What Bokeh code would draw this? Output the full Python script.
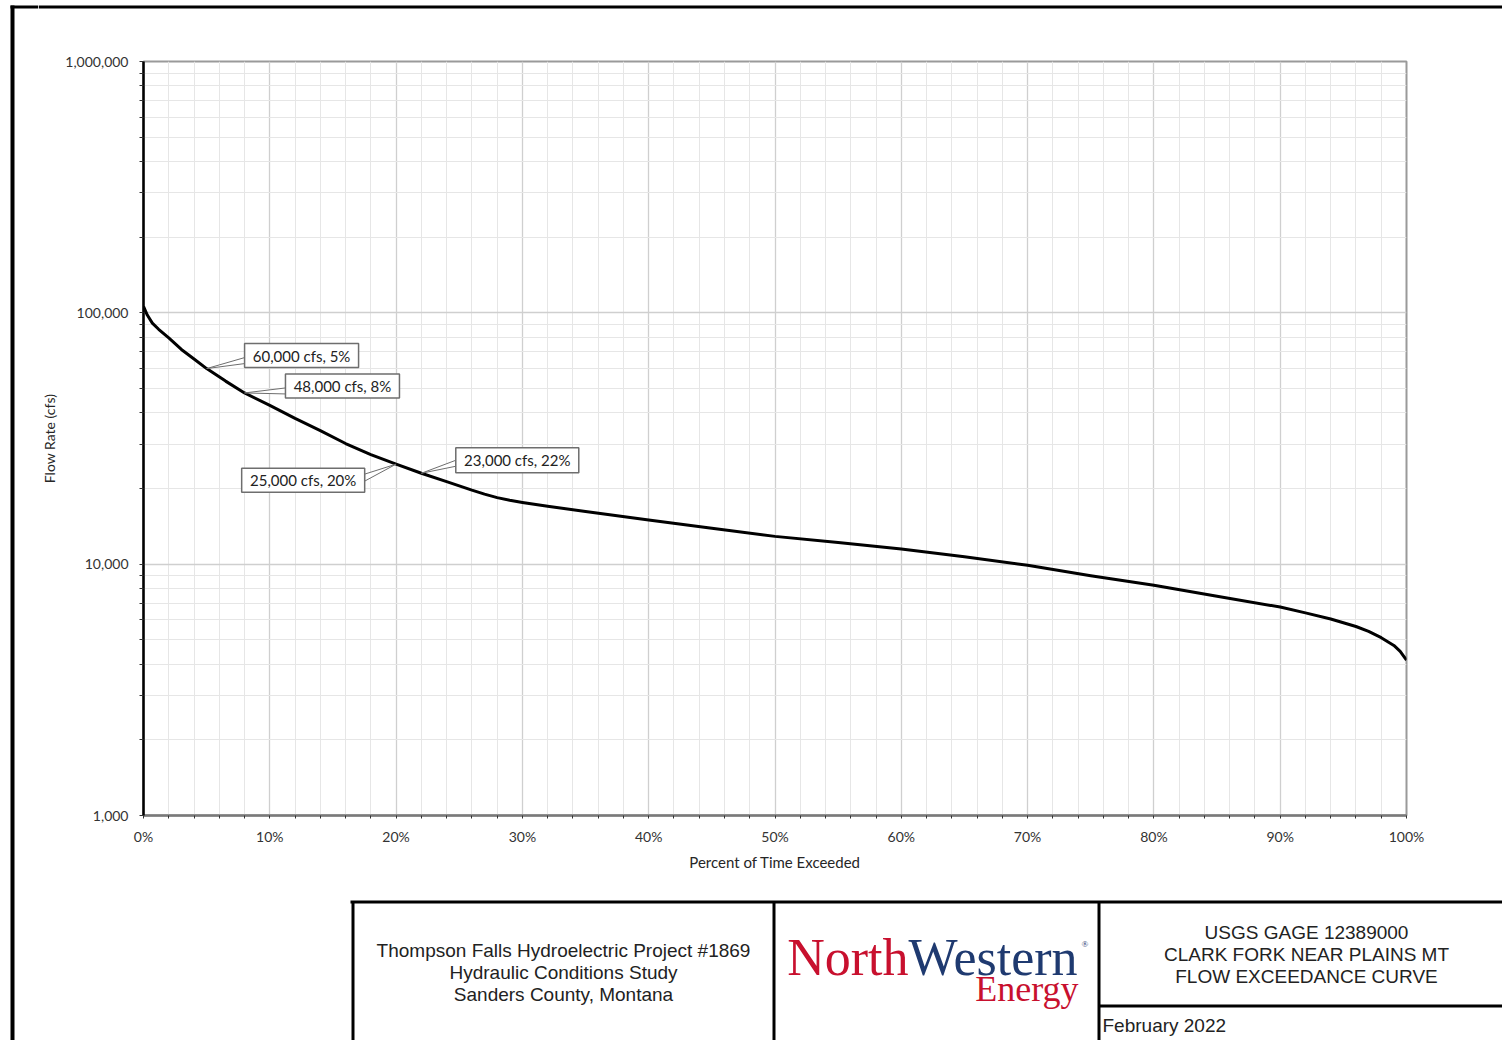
from bokeh.plotting import figure
from bokeh.models import Range1d, FixedTicker, NumeralTickFormatter, PrintfTickFormatter
from bokeh.layouts import row, column
from bokeh.core.properties import value
from bokeh.embed import file_html
from bokeh.resources import INLINE

# ---------------- data ----------------
pct = [0, 0.3, 0.7, 1.2, 2, 3, 4, 5, 6.5, 8, 10, 12, 14, 16, 18, 20, 22, 24, 26, 27,
       28, 29, 30, 32, 35, 40, 45, 50, 55, 60, 65, 70, 75, 80, 85, 90, 92, 94, 96,
       97, 98, 99, 99.5, 100]
flow = [106000, 98000, 91000, 86000, 79500, 71500, 65500, 60000, 53500, 48000, 42800,
        38000, 34000, 30200, 27300, 25000, 23000, 21300, 19700, 19000, 18400, 17950,
        17600, 17000, 16200, 15000, 13900, 12900, 12200, 11500, 10700, 9900, 9000,
        8250, 7450, 6750, 6400, 6050, 5650, 5400, 5100, 4750, 4500, 4150]

call_pct = [5, 8, 20, 22]
call_flow = [60000, 48000, 25000, 23000]
call_text = ["60,000 cfs, 5%", "48,000 cfs, 8%", "25,000 cfs, 20%", "23,000 cfs, 22%"]

x_major = list(range(0, 101, 10))
x_minor = [v for v in range(0, 101, 2) if v % 10]
y_major = [1000, 10000, 100000, 1000000]
y_minor = [m * d for d in (1000, 10000, 100000) for m in range(2, 10)]

x_label = "Percent of Time Exceeded"
y_label = "Flow Rate (cfs)"

title_left = ["Thompson Falls Hydroelectric Project #1869", "Hydraulic Conditions Study",
              "Sanders County, Montana"]
title_right = ["USGS GAGE 12389000", "CLARK FORK NEAR PLAINS MT", "FLOW EXCEEDANCE CURVE"]
date_text = "February 2022"

# ---------------- layout constants ----------------
LEFT_W = 38
COL_W = 1464
TOP_H = 45
CHART_H = 848
BOT_H = 147
MB_L, MB_R, MB_T, MB_B = 104, 96, 16, 78
FRAME_W = COL_W - MB_L - MB_R
FRAME_H = CHART_H - MB_T - MB_B
X0, X1 = 0, 100
LOG0, LOG1 = 3, 6

# callout styling (screen-pixel offsets from the anchor point)
box_dx = [95, 98, -93, 96]
box_dy = [-13, -7, 16, -13]
box_w = [114, 114, 123, 123]
box_h = [24, 24, 24, 25]
wedge_y0 = [2, 2, -6, 0]
wedge_y1 = [8, 8, 1, 6]


def to_data(xd, yd, dx, dy):
    return xd + dx * (X1 - X0) / FRAME_W, yd * 10 ** (-dy * (LOG1 - LOG0) / FRAME_H)


FONT = value("Lato")

# ---------------- chart ----------------
p = figure(width=COL_W, height=CHART_H, y_axis_type="log",
           x_range=Range1d(X0, X1), y_range=Range1d(10 ** LOG0, 10 ** LOG1),
           output_backend="svg", toolbar_location=None, frame_align=False,
           min_border_left=MB_L, min_border_right=MB_R,
           min_border_top=MB_T, min_border_bottom=MB_B)
p.outline_line_color = "#9a9a9a"
p.outline_line_width = 2

xt = FixedTicker(ticks=x_major, minor_ticks=x_minor)
yt = FixedTicker(ticks=y_major, minor_ticks=y_minor)
p.xaxis.ticker = xt
p.yaxis.ticker = yt
p.xgrid.ticker = xt
p.ygrid.ticker = yt
p.xaxis.formatter = PrintfTickFormatter(format="%d%%")
p.yaxis.formatter = NumeralTickFormatter(format="0,0")

for g in (p.xgrid, p.ygrid):
    g.grid_line_color = "#cfcfcf"
    g.grid_line_width = 1.3
    g.minor_grid_line_color = "#e6e6e6"
    g.minor_grid_line_width = 1

p.yaxis.axis_line_color = "black"
p.yaxis.axis_line_width = 2.5
p.xaxis.axis_line_color = "#7a7a7a"
p.xaxis.axis_line_width = 2.5
for ax in (p.xaxis, p.yaxis):
    ax.major_tick_in = 0
    ax.minor_tick_in = 0
    ax.major_tick_line_color = "#333333"
    ax.minor_tick_line_color = "#333333"
    ax.major_label_text_font = "Lato"
    ax.major_label_text_font_size = "14px"
    ax.major_label_text_color = "#333333"
    ax.axis_label_text_font = "Lato"
    ax.axis_label_text_font_style = "normal"
    ax.axis_label_text_color = "#262626"
p.xaxis.major_tick_out = 3
p.xaxis.minor_tick_out = 3
p.yaxis.major_tick_out = 4
p.yaxis.minor_tick_out = 4
p.xaxis.major_label_standoff = 9
p.yaxis.major_label_standoff = 11
p.xaxis.axis_label = x_label
p.yaxis.axis_label = y_label
p.xaxis.axis_label_text_font_size = "15px"
p.yaxis.axis_label_text_font_size = "14px"
p.xaxis.axis_label_standoff = 5
p.yaxis.axis_label_standoff = 4

p.line(pct, flow, line_color="black", line_width=3, line_join="round")

# callouts
wx, wy, bx, by = [], [], [], []
for i in range(len(call_pct)):
    cx, cy = call_pct[i], call_flow[i]
    dx, dy = box_dx[i], box_dy[i]
    cbx, cby = to_data(cx, cy, dx, dy)
    bx.append(cbx)
    by.append(cby)
    edge = dx - box_w[i] / 2 if dx > 0 else dx + box_w[i] / 2
    a = to_data(cx, cy, edge, dy + wedge_y0[i])
    b = to_data(cx, cy, edge, dy + wedge_y1[i])
    wx.append([cx, a[0], b[0]])
    wy.append([cy, a[1], b[1]])

p.patches(wx, wy, fill_color="white", line_color="#6e6e6e", line_width=1)
p.rect(bx, by, width=box_w, height=box_h, width_units="screen", height_units="screen",
       fill_color="white", line_color="#6e6e6e", line_width=1.5)
p.text(bx, by, text=call_text, text_align="center", text_baseline="middle",
       text_font=FONT, text_font_size="15px", text_color="#222222")


# ---------------- decorations ----------------
def deco(w, h):
    f = figure(width=w, height=h, x_range=Range1d(0, w), y_range=Range1d(h, 0),
               x_axis_location=None, y_axis_location=None, toolbar_location=None,
               output_backend="svg", min_border=0, outline_line_color=None,
               frame_align=False)
    f.grid.visible = False
    return f


TOTAL_H = TOP_H + CHART_H + BOT_H
left = deco(LEFT_W, TOTAL_H)
left.segment(x0=[12, 10], y0=[5, 6.5], x1=[12, LEFT_W], y1=[TOTAL_H, 6.5],
             line_color="black", line_width=[4, 3])

top = deco(COL_W, TOP_H)
top.segment(x0=[0], y0=[6.5], x1=[COL_W], y1=[6.5], line_color="black", line_width=3)

bot = deco(COL_W, BOT_H)
bot.segment(x0=[312, 314.5, 735.5, 1060.5, 1060],
            y0=[8.5, 8.5, 8.5, 8.5, 112.5],
            x1=[COL_W, 314.5, 735.5, 1060.5, COL_W],
            y1=[8.5, BOT_H, BOT_H, BOT_H, 112.5],
            line_color="black", line_width=3)
SANS = value("Liberation Sans")
bot.text(x=[525] * 3, y=[57, 79, 101], text=title_left, text_align="center",
         text_baseline="middle", text_font=SANS, text_font_size="19px", text_color="#222222")
bot.text(x=[1268] * 3, y=[39, 61, 83], text=title_right, text_align="center",
         text_baseline="middle", text_font=SANS, text_font_size="19px", text_color="#222222")
bot.text(x=[1064], y=[132], text=[date_text], text_align="left",
         text_baseline="middle", text_font=SANS, text_font_size="19px", text_color="#222222")

SERIF = value("Liberation Serif")
bot.text(x=[870], y=[64], text=["North"], text_align="right", text_baseline="alphabetic",
         text_font=SERIF, text_font_size="52px", text_color="#c8102e")
bot.text(x=[870], y=[64], text=["Western"], text_align="left", text_baseline="alphabetic",
         text_font=SERIF, text_font_size="52px", text_color="#1f3a70")
bot.text(x=[1043], y=[50], text=["®"], text_align="left", text_baseline="alphabetic",
         text_font=SERIF, text_font_size="9px", text_color="#1f3a70")
bot.text(x=[1040], y=[95], text=["Energy"], text_align="right", text_baseline="alphabetic",
         text_font=SERIF, text_font_size="36px", text_color="#c8102e")

layout = row(left, column(top, p, bot))
open("out.html", "w").write(file_html(layout, INLINE))
